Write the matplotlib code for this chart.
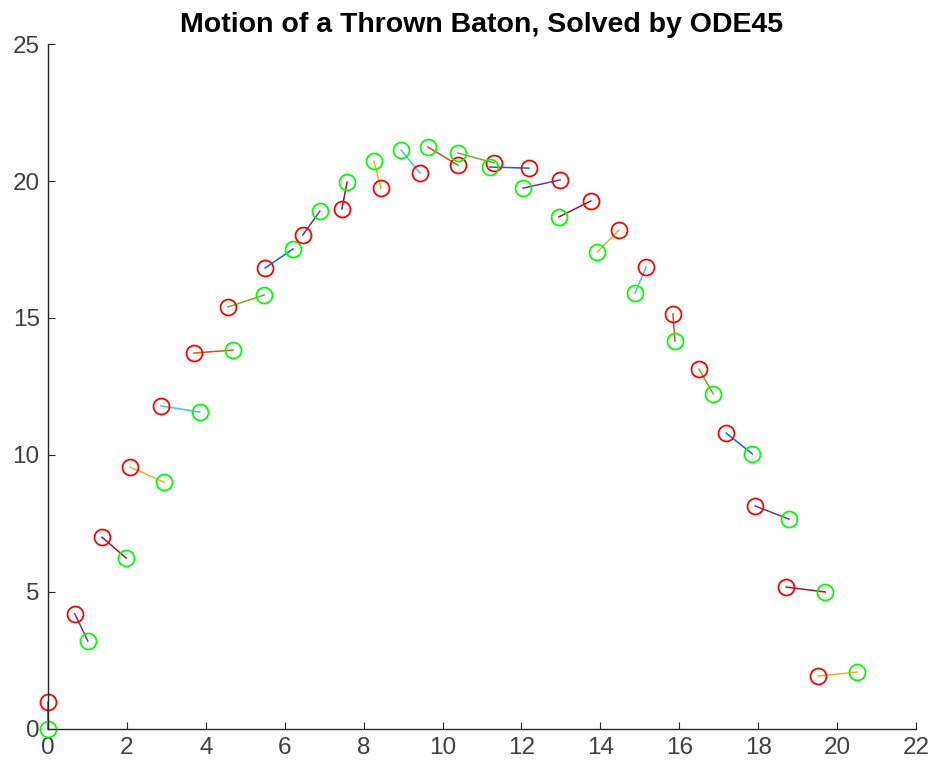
import matplotlib.pyplot as plt

# posizioni delle due estremita del bastone (rossa e verde) ad ogni istante
x_rosso = [0.0, 0.68, 1.37, 2.08, 2.86, 3.70, 4.56, 5.50, 6.46, 7.45, 8.44, 9.43, 10.39,
           11.31, 12.19, 12.98, 13.76, 14.47, 15.16, 15.84, 16.50, 17.19, 17.92, 18.71, 19.52]
y_rosso = [0.99, 4.20, 7.00, 9.56, 11.79, 13.72, 15.40, 16.82, 18.03, 18.98, 19.74, 20.29, 20.58,
           20.66, 20.47, 20.04, 19.27, 18.21, 16.86, 15.15, 13.14, 10.80, 8.14, 5.18, 1.93]
x_verde = [0.0, 1.01, 1.98, 2.94, 3.85, 4.69, 5.48, 6.21, 6.89, 7.58, 8.26, 8.95, 9.63,
           10.39, 11.20, 12.04, 12.95, 13.92, 14.88, 15.89, 16.86, 17.85, 18.78, 19.70, 20.51]
y_verde = [0.0, 3.21, 6.24, 9.01, 11.57, 13.83, 15.84, 17.52, 18.90, 19.96, 20.73, 21.13, 21.24,
           21.02, 20.51, 19.74, 18.69, 17.41, 15.91, 14.16, 12.23, 10.04, 7.66, 5.00, 2.08]

# ordine colori di MATLAB, avanza di 3 ad ogni bastone
colori_matlab = ['#0072BD', '#D95319', '#EDB120', '#7E2F8E', '#77AC30', '#4DBEEE', '#A2142F']

plt.rcParams['font.family'] = ['Liberation Sans', 'DejaVu Sans']

fig = plt.figure(figsize=(9.35, 7.68), dpi=100)
ax = fig.add_axes([0.0513, 0.0508, 0.9284, 0.8919])

for i in range(len(x_rosso)):
    colore = colori_matlab[(3 * i) % 7]
    ax.plot([x_rosso[i], x_verde[i]], [y_rosso[i], y_verde[i]], color=colore, linewidth=1.1,
            clip_on=False)
    ax.plot(x_rosso[i], y_rosso[i], 'o', mfc='none', mec='red', ms=11.5, mew=1.3, clip_on=False)
    ax.plot(x_verde[i], y_verde[i], 'o', mfc='none', mec='lime', ms=11.5, mew=1.3, clip_on=False)

ax.set_xlim(0, 22)
ax.set_ylim(0, 25)
ax.set_xticks(range(0, 23, 2))
ax.set_yticks(range(0, 26, 5))
ax.spines['top'].set_visible(False)
ax.spines['right'].set_visible(False)
for s in ['left', 'bottom']:
    ax.spines[s].set_color('#262626')
    ax.spines[s].set_linewidth(1.0)
ax.tick_params(direction='in', length=5, colors='#262626', labelsize=17.5)
ax.tick_params(axis='x', pad=6)
ax.tick_params(axis='y', pad=6)
for lab in ax.get_xticklabels() + ax.get_yticklabels():
    lab.set_color('#404040')

ax.set_title('Motion of a Thrown Baton, Solved by ODE45', fontsize=20.5, fontweight='bold', pad=9)

plt.savefig('out.png', dpi=100)
